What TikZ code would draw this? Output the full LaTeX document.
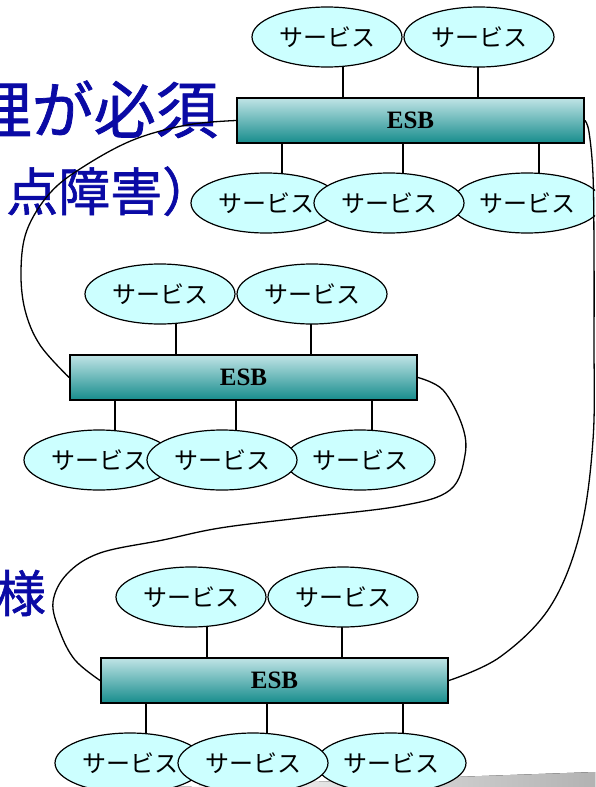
\documentclass[tikz,border=0pt]{standalone}
\usepackage{fontspec}
\newfontfamily\jp{Noto Sans CJK JP}
\newfontfamily\jpheavy{Noto Sans CJK JP}[FakeBold=1.2]
\newfontfamily\esbfont{Liberation Serif}
\usetikzlibrary{shapes.geometric,backgrounds}
\definecolor{svcfill}{RGB}{204,255,255}
\definecolor{esbtop}{RGB}{192,228,230}
\definecolor{esbbot}{RGB}{22,140,140}
\definecolor{titleblue}{RGB}{10,10,165}
\tikzset{
  svc/.style={ellipse, draw=black, line width=1.2pt, fill=svcfill,
    minimum width=150pt, minimum height=60pt, inner sep=0pt,
    font=\jp\fontsize{24}{24}\selectfont},
  esbbox/.style={rectangle, draw=black, line width=1.8pt, top color=esbtop,
    bottom color=esbbot, minimum width=347pt, minimum height=45pt, inner sep=0pt,
    font=\esbfont\bfseries\fontsize{25}{25}\selectfont},
  link/.style={line width=1.5pt},
  bus/.style={line width=1.3pt},
  titletext/.style={text=titleblue, inner sep=0pt}
}
\newcommand\esbcluster[3]{%
  \begin{scope}[shift={(#2,#3)}]
    \node[esbbox] (#1esb) at (410.5,120.5) {ESB};
    \node[svc] (#1t1) at (327,37) {サービス};
    \node[svc] (#1t2) at (479,37) {サービス};
    \node[svc] (#1b1) at (266,203) {サービス};
    \node[svc] (#1b3) at (527,203) {サービス};
    \node[svc] (#1b2) at (389,203) {サービス};
    \begin{scope}[on background layer]
      \draw[link] ([xshift=16pt]#1t1.center) -- ([xshift=16pt]#1t1.center |- #1esb.north);
      \draw[link] ([xshift=-1pt]#1t2.center) -- ([xshift=-1pt]#1t2.center |- #1esb.north);
      \draw[link] ([xshift=16pt]#1b1.center) -- ([xshift=16pt]#1b1.center |- #1esb.south);
      \draw[link] ([xshift=14pt]#1b2.center) -- ([xshift=14pt]#1b2.center |- #1esb.south);
      \draw[link] ([xshift=12pt]#1b3.center) -- ([xshift=12pt]#1b3.center |- #1esb.south);
    \end{scope}
  \end{scope}}
\begin{document}
\begin{tikzpicture}[x=1pt,y=-1pt]
  \useasboundingbox (0,0) rectangle (595,787);
  \clip (0,0) rectangle (595,787);
  % slide decoration at the bottom
  \begin{scope}[on background layer]
    \fill[white] (0,0) rectangle (595,787);
    \fill[left color=white, right color=black!30] (170,787) -- (595,772) -- (595,787) -- cycle;
  \end{scope}
  % cropped slide text
  \node[titletext, font=\jpheavy\fontsize{62}{62}\selectfont, anchor=base east] (ttl1) at (218,133) {理が必須};
  \node[titletext, font=\jpheavy\fontsize{52}{52}\selectfont, anchor=base west] (ttl2) at (6,211) {点障害）};
  \node[titletext, font=\jpheavy\fontsize{50}{50}\selectfont, anchor=base east] (ttl3) at (46,612) {様};
  % three ESB clusters
  \esbcluster{a}{0}{0}
  \esbcluster{b}{-167}{257}
  \esbcluster{c}{-136}{560}
  % links between ESBs
  \draw[bus] plot[smooth, tension=0.6] coordinates {(aesb.west) (187,125) (133,140) (83,167) (50,193) (27,230) (21,270) (25,310) (40,345) (besb.west)};
  \draw[bus] plot[smooth, tension=0.6] coordinates {(besb.east) (443,390) (462,425) (465,455) (450,490) (400,506) (300,518) (220,528) (163,540) (100,553) (67,574) (53,602) (60,632) (75,660) (cesb.west)};
  \draw[bus] plot[smooth, tension=0.6] coordinates {(aesb.east) (589,132) (593,175) (594,250) (594,340) (593,440) (580,533) (550,607) (500,657) (cesb.east)};
\end{tikzpicture}
\end{document}
